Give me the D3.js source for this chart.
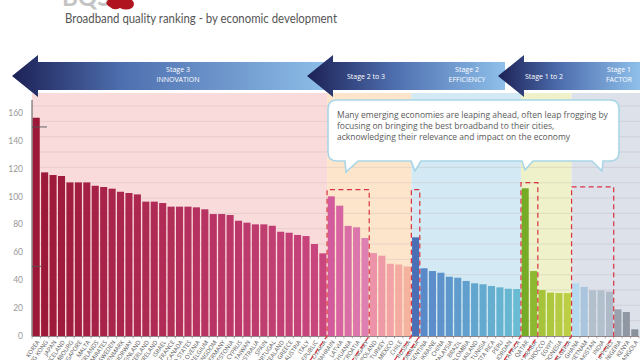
<!DOCTYPE html>
<html><head><meta charset="utf-8">
<script src="https://cdn.jsdelivr.net/npm/d3@7"></script>
<style>body{margin:0;background:#fff}svg{display:block}</style>
</head><body><svg id="chart" width="640" height="360"></svg>
<script>
// ---------------- DATA ----------------
const countries = [
  "KOREA","HONG KONG","JAPAN","ICELAND","LUXEMBOURG","SINGAPORE","MALTA","NETHERLANDS",
  "UNITED ARAB EMIRATES","SWEDEN","DENMARK","NORWAY","FINLAND","SWITZERLAND","IRELAND","ISRAEL",
  "FRANCE","CANADA","UNITED STATES","SLOVENIA","BELGIUM","UNITED KINGDOM","GERMANY","ESTONIA",
  "CYPRUS","TAIWAN","AUSTRALIA","SPAIN","PORTUGAL","NEW ZEALAND","GREECE","AUSTRIA","ITALY",
  "CZECH REPUBLIC","SLOVAKIA",
  "BAHRAIN","LATVIA","LITHUANIA","CROATIA","HUNGARY","POLAND","TURKEY","MEXICO","CHILE","RUSSIA",
  "ROMANIA","ARGENTINA","UKRAINE","CHINA","MALAYSIA","BRAZIL","COLOMBIA","THAILAND","TUNISIA",
  "COSTA RICA","PERU","JORDAN","SOUTH AFRICA",
  "QATAR","SAUDI ARABIA","MOROCCO","EGYPT","INDONESIA","ALGERIA",
  "GHANA","VIETNAM","PAKISTAN","INDIA","PHILIPPINES","NIGERIA","KENYA","ANGOLA"
];
const scores = [
  156.6,117.4,115.5,114.8,110.2,110.2,110.2,107.8,106.9,105.7,103.5,102.6,101.6,96.4,96.4,95.4,
  92.8,92.8,92.8,92.3,90.9,87.5,87.5,86.8,82.7,81.3,80.1,80.1,79.1,74.8,74.1,72.5,71.7,66.0,59.3,
  100.2,93.5,79.0,78.0,70.3,59.5,57.6,51.8,51.3,49.9,
  70.8,48.6,46.6,45.4,42.5,41.8,39.5,37.8,37.1,35.9,34.9,33.9,33.7,
  106.0,46.6,33.0,31.1,30.8,30.8,
  37.8,35.2,32.8,32.8,31.8,19.1,17.2,4.8
];
const stageNames  = ["Stage 3","Stage 2 to 3","Stage 2","Stage 1 to 2","Stage 1"];
const stageSub    = ["INNOVATION","","EFFICIENCY","","FACTOR"];
const stageCounts = [35,10,13,6,8];
const yTicks = [0,20,40,60,80,100,120,140,160];
const axisMarks = [150,50];
// highlighted groups (first country, last country, box top value)
const boxFirst = ["BAHRAIN","ROMANIA","QATAR","GHANA"];
const boxLast  = ["HUNGARY","ROMANIA","SAUDI ARABIA","PHILIPPINES"];
const boxTop   = [105,105,110,107];
const calloutLines = [
  "Many emerging economies are leaping ahead, often leap frogging by",
  "focusing on bringing the best broadband to their cities,",
  "acknowledging their relevance and impact on the economy"
];
const title = "Broadband quality ranking - by economic development";

// ---------------- STYLE ----------------
const bandColors = ["#f9dbdc","#fde5cc","#d3e9f3","#eef1c9","#dce1ea"];
const svg = d3.select("#chart");
const x0 = 32, x1 = 639, yBase = 336;
const x = d3.scaleBand().domain(d3.range(countries.length)).range([x0,x1]).paddingInner(0.16).paddingOuter(0.08);
const step = x.step();
const y = d3.scaleLinear().domain([0,160]).range([yBase,113]);

const stageStart = [];
stageCounts.reduce((a,c,i)=>{stageStart[i]=a;return a+c;},0);
const slotX = i => x0 + i*step;

function barColor(i){
  const s = stageStart.findIndex((st,k)=> i>=st && i<st+stageCounts[k]);
  const j = i - stageStart[s], n = stageCounts[s];
  if (s===0) return d3.interpolateRgb("#9c1838","#c9467f")(j/(n-1));
  if (s===1) return j<5 ? d3.interpolateRgb("#d45b9b","#de80b1")(j/4) : d3.interpolateRgb("#ec93aa","#f5b39f")((j-5)/4);
  if (s===2) return j===0 ? "#4a6fb5" : d3.interpolateRgb("#5a89c9","#69bcd3")((j-1)/(n-2));
  if (s===3) return j===0 ? "#76ab28" : j===1 ? "#8db832" : d3.interpolateRgb("#a6c43a","#bccf44")((j-2)/(n-3));
  const c = ["#b5d9ef","#aac6de","#b2bfcd","#b2bfcc","#aebac8","#98a1ad","#8f97a2","#8a919b"];
  return c[j];
}

// ---------------- BACKGROUND BANDS ----------------
stageCounts.forEach((c,k)=>{
  const xa = k===0 ? x0 : slotX(stageStart[k]);
  const xb = k===stageCounts.length-1 ? 640 : slotX(stageStart[k]+c);
  svg.append("rect").attr("x",xa).attr("y",93).attr("width",xb-xa).attr("height",yBase-93).attr("fill",bandColors[k]);
});
const gridStep = 11;
svg.append("g").selectAll("line").data(d3.range(gridStep,170,gridStep)).join("line")
  .attr("x1",x0).attr("x2",640).attr("y1",d=>y(d)).attr("y2",d=>y(d))
  .attr("stroke","#b9a9ad").attr("stroke-opacity",0.35).attr("stroke-width",0.8);

// ---------------- BARS ----------------
svg.append("g").selectAll("rect").data(scores).join("rect")
  .attr("x",(d,i)=>x(i)).attr("width",x.bandwidth())
  .attr("y",d=>y(d)).attr("height",d=>yBase-y(d))
  .attr("fill",(d,i)=>barColor(i));

svg.append("line").attr("x1",x0).attr("x2",x1).attr("y1",yBase+0.5).attr("y2",yBase+0.5).attr("stroke","#7a6a70").attr("stroke-width",0.8);
svg.append("g").selectAll("line").data(d3.range(countries.length+1)).join("line")
  .attr("x1",i=>slotX(i)).attr("x2",i=>slotX(i)).attr("y1",yBase).attr("y2",yBase+2.5)
  .attr("stroke","#777").attr("stroke-width",0.6);

// y axis
svg.append("line").attr("x1",x0).attr("x2",x0).attr("y1",100).attr("y2",yBase).attr("stroke","#555").attr("stroke-width",1);
svg.append("g").selectAll("text").data(yTicks).join("text")
  .attr("x",23).attr("y",d=>y(d)).attr("dy","0.35em").attr("text-anchor","end")
  .attr("font-family","Lato, 'Open Sans', sans-serif").attr("font-size",8.5).attr("fill","#9a9a9a")
  .text(d=>d);
svg.append("g").selectAll("line").data(axisMarks).join("line")
  .attr("x1",x0).attr("x2",(d,i)=>x0+(i===0?15:10)).attr("y1",d=>y(d)).attr("y2",d=>y(d))
  .attr("stroke","#555").attr("stroke-width",0.9);

// country labels
const ang = -55;
svg.append("g").selectAll("text").data(countries).join("text")
  .attr("transform",(d,i)=>`translate(${x(i)+x.bandwidth()/2+2},${yBase+5}) rotate(${ang})`)
  .attr("text-anchor","end").attr("dy","0.35em")
  .attr("font-family","'Open Sans', sans-serif").attr("font-size",6).attr("fill","#555")
  .text(d=>d);

// ---------------- DASHED BOXES ----------------
const dash = svg.append("g").attr("fill","none").attr("stroke","#d9323f").attr("stroke-width",1.2).attr("stroke-dasharray","5,3.5");
const tanA = Math.tan(-ang*Math.PI/180);
boxFirst.forEach((f,k)=>{
  const a = slotX(countries.indexOf(f)), b = slotX(countries.indexOf(boxLast[k])+1);
  const t = y(boxTop[k]);
  const dy = 360 - yBase;
  dash.append("path").attr("d",`M${a-dy/tanA},360 L${a},${yBase} L${a},${t} L${b},${t} L${b},${yBase} L${b-dy/tanA},360`);
});

// ---------------- ARROWS ----------------
const defs = svg.append("defs");
const arrows = [{tip:12,right:332},{tip:307,right:505},{tip:498,right:640}];
arrows.forEach((a,k)=>{
  const g = defs.append("linearGradient").attr("id","ag"+k).attr("gradientUnits","userSpaceOnUse")
    .attr("x1",a.tip).attr("x2",a.right).attr("y1",0).attr("y2",0);
  g.append("stop").attr("offset",0).attr("stop-color","#1c2156");
  g.append("stop").attr("offset",k===0?0.35:0.45).attr("stop-color","#4f70b0");
  g.append("stop").attr("offset",1).attr("stop-color","#8fc0ea");
});
arrows.forEach((a,k)=>{
  const hw = 26, cy = 76;
  svg.append("path").attr("fill",`url(#ag${k})`)
    .attr("d",`M${a.tip},${cy} L${a.tip+hw},${cy-21} L${a.tip+hw},${cy-14} L${a.right},${cy-14} L${a.right},${cy+14} L${a.tip+hw},${cy+14} L${a.tip+hw},${cy+21} Z`);
});
const arrowText = svg.append("g").attr("fill","#fff").attr("font-family","'Open Sans', sans-serif")
  .attr("font-size",7).attr("text-anchor","middle");
const stageTextX = [178,366,467,544,619];
stageNames.forEach((s,k)=>{
  if (stageSub[k]) {
    arrowText.append("text").attr("x",stageTextX[k]).attr("y",72).text(s);
    arrowText.append("text").attr("x",stageTextX[k]).attr("y",82).text(stageSub[k]);
  } else {
    arrowText.append("text").attr("x",stageTextX[k]).attr("y",78.5).text(s);
  }
});

// ---------------- CALLOUT ----------------
const cb = {l:328,r:619,t:100,b:161};
const tails = [{b1:345,b2:358,tip:[346,172]},{b1:411,b2:421,tip:[415,171]},{b1:522,b2:533,tip:[525,170]},{b1:592,b2:603,tip:[602,171]}];
const r = 9;
let p = `M${cb.l+r},${cb.t} L${cb.r-r},${cb.t} Q${cb.r},${cb.t} ${cb.r},${cb.t+r} L${cb.r},${cb.b-r} Q${cb.r},${cb.b} ${cb.r-r},${cb.b}`;
tails.slice().reverse().forEach(tl=>{ p += ` L${tl.b2},${cb.b} L${tl.tip[0]},${tl.tip[1]} L${tl.b1},${cb.b}`; });
p += ` L${cb.l+r},${cb.b} Q${cb.l},${cb.b} ${cb.l},${cb.b-r} L${cb.l},${cb.t+r} Q${cb.l},${cb.t} ${cb.l+r},${cb.t} Z`;
svg.append("path").attr("d",p).attr("fill","#fff").attr("stroke","#a9d6e6").attr("stroke-width",1.6);
svg.append("g").selectAll("text").data(calloutLines).join("text")
  .attr("x",337).attr("y",(d,i)=>118+i*11)
  .attr("font-family","'Open Sans', sans-serif").attr("font-size",8.5).attr("fill","#5a5a5a")
  .text(d=>d);

// ---------------- TITLE / LOGO ----------------
svg.append("text").attr("x",62).attr("y",6).attr("font-family","Lato, sans-serif").attr("font-weight",700)
  .attr("font-size",24).attr("fill","#c4c4c4").text("BQS");
svg.append("path").attr("fill","#b0141e")
  .attr("d","M108,0 L132,0 Q136,4 132,8 Q126,11 120,8 Q114,11 110,7 Q104,4 108,0 Z");
svg.append("text").attr("x",65).attr("y",23).attr("font-family","Lato, sans-serif")
  .attr("font-size",13).attr("fill","#555").attr("textLength",272).attr("lengthAdjust","spacingAndGlyphs").text(title);
</script></body></html>
